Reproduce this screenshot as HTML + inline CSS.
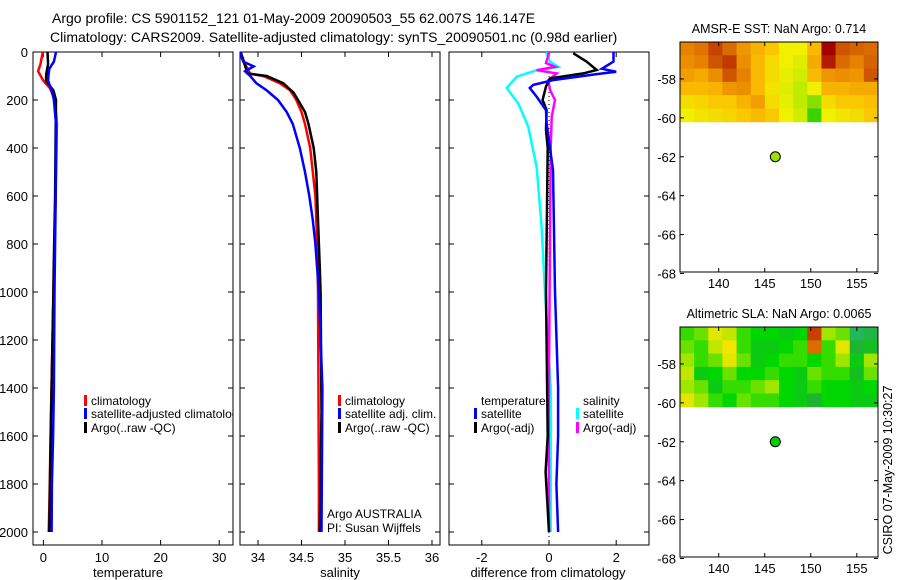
<!DOCTYPE html>
<html><head><meta charset="utf-8"><style>
body{margin:0;background:#fff}
svg{display:block;font-family:"Liberation Sans",sans-serif}
</style></head><body>
<svg id="s" width="900" height="580" xmlns="http://www.w3.org/2000/svg">
<defs>
<clipPath id="c1"><rect x="33" y="52" width="200" height="493"/></clipPath>
<clipPath id="c2"><rect x="240" y="52" width="200" height="493"/></clipPath>
<clipPath id="c3"><rect x="449" y="52" width="200" height="493"/></clipPath>
</defs>
<text x="52" y="23" font-size="14">Argo profile: CS 5901152_121 01-May-2009 20090503_55 62.007S 146.147E</text>
<text x="50" y="42" font-size="14">Climatology: CARS2009. Satellite-adjusted climatology: synTS_20090501.nc (0.98d earlier)</text>
<g id="g"></g>
</svg>
<script>
// ---- profile data ----
const tRedD=[0,50,80,120,150,200,300,600,1000,1500,1900,2000];
const tRedV=[-0.1,-0.5,-0.9,0,1.1,2.0,2.3,2.1,1.7,1.3,1.0,0.9];
const tBlkD=[0,50,90,120,160,200,300,600,900,1000,1400,1600,2000];
const tBlkV=[0.7,0.8,0.5,0.45,1.7,2.15,2.1,2.0,1.75,1.7,1.4,1.25,1.0];
const tBluD=[0,40,70,100,120,160,200,300,600,1000,1400,1600,1800,2000];
const tBluV=[2.15,1.8,1.0,0.85,0.8,1.4,1.8,2.15,2.1,1.9,1.8,1.65,1.45,1.4];
const sRedD=[0,50,90,100,130,160,200,250,300,400,500,600,800,1000,1800,2000];
const sRedV=[33.80,33.85,33.91,34.06,34.25,34.37,34.44,34.50,34.54,34.60,34.63,34.66,34.68,34.69,34.70,34.70];
const sBlkD=[0,90,100,130,170,200,250,300,400,500,700,900,1000,1500,2000];
const sBlkV=[33.80,33.88,34.10,34.29,34.41,34.46,34.54,34.58,34.64,34.67,34.69,34.71,34.72,34.73,34.71];
const sBluD=[0,40,60,80,100,130,160,200,250,300,400,500,600,700,800,1000,1400,2000];
const sBluV=[33.79,33.83,33.95,33.85,33.91,33.98,34.10,34.23,34.33,34.40,34.48,34.54,34.59,34.63,34.66,34.70,34.74,34.73];
const dBluD=[0,40,70,82,92,117,137,150,186,242,296,492,1000,1400,1600,1800,2000];
const dBluV=[1.92,1.92,1.57,2.0,1.42,0.12,-0.47,-0.57,-0.37,-0.09,-0.07,0.12,0.18,0.27,0.27,0.22,0.27];
const dBlkD=[5,40,75,89,110,144,200,242,325,400,1000,1600,1750,2000];
const dBlkV=[0.72,1.12,1.42,1.02,0.03,-0.09,-0.19,-0.07,-0.09,-0.04,-0.09,-0.04,-0.1,0];
const dCyaD=[0,40,62,76,103,150,215,311,478,728,1000,1400,2000];
const dCyaV=[-0.09,0.03,0.28,-0.37,-0.96,-1.26,-0.91,-0.62,-0.37,-0.22,-0.12,0.05,0.05];
const dMagD=[0,46,62,76,89,117,158,200,269,400,1500,2000];
const dMagV=[0.01,-0.09,0.18,-0.37,0.23,-0.02,0.03,0.18,0.08,0.05,-0.01,0];
const depthTicks=[0,200,400,600,800,1000,1200,1400,1600,1800,2000];
const tTicks=[0,10,20,30];
const sTicks=[34,34.5,35,35.5,36];
const sTickLabels=["34","34.5","35","35.5","36"];
const dTicks=[-2,0,2];
const latTicks=[-58,-60,-62,-64,-66,-68];
const lonTicks=[140,145,150,155];
// ---- map data (14 lon cols x 6 lat rows, top row first) ----
const sstGrid=[
[.75,.78,.88,.8,.7,.62,.55,.45,.45,.6,1.0,.85,.82,.8],
[.72,.75,.85,.9,.72,.6,.5,.45,.4,.65,.95,.8,.75,.82],
[.68,.65,.72,.85,.75,.6,.5,.42,.35,.6,.7,.72,.7,.85],
[.6,.6,.62,.7,.72,.6,.48,.4,.3,.45,.62,.62,.65,.65],
[.5,.52,.55,.55,.62,.68,.5,.42,.3,.22,.5,.55,.55,.58],
[.45,.48,.5,.52,.55,.6,.55,.45,.35,.1,.45,.48,.5,.55]];
const slaGrid=[
[.5,.55,.7,.65,.5,.45,.45,.4,.45,.95,.6,.55,.2,.25],
[.55,.5,.65,.72,.5,.4,.4,.45,.5,.9,.5,.7,.3,.35],
[.6,.5,.55,.7,.55,.4,.45,.5,.5,.45,.5,.6,.4,.6],
[.65,.4,.45,.55,.45,.45,.5,.45,.4,.55,.5,.5,.35,.55],
[.6,.55,.4,.5,.5,.55,.6,.45,.4,.5,.45,.45,.4,.45],
[.7,.6,.5,.45,.55,.5,.5,.45,.4,.3,.45,.45,.4,.4]];
const gridLon=[135.8,157.3], gridLat=[-56.1,-60.2];
const argoLon=146.15, argoLat=-62.0;

const NS="http://www.w3.org/2000/svg", G=document.getElementById('g');
function el(tag,attrs,parent,txt){const e=document.createElementNS(NS,tag);for(const k in attrs)e.setAttribute(k,attrs[k]);if(txt!==undefined)e.textContent=txt;(parent||G).appendChild(e);return e;}
const yD=d=>52+d*0.24;
const xT=v=>43.4+v*5.86, xS=v=>258+(v-34)*87, xDf=v=>549+v*33.6;
function line(D,V,fx,col,clip,name){
  const p=D.map((d,i)=>fx(V[i]).toFixed(1)+','+yD(d).toFixed(1)).join(' ');
  const e=el('polyline',{points:p,fill:'none',stroke:col,'stroke-width':2.5,'clip-path':'url(#'+clip+')'});
  
  
}
function panel(x0,name){
  const r=el('rect',{x:x0,y:52,width:200,height:493,fill:'none',stroke:'#000','stroke-width':1});
  
  
  depthTicks.forEach(d=>{el('line',{x1:x0,x2:x0+5,y1:yD(d),y2:yD(d),stroke:'#000'});el('line',{x1:x0+200,x2:x0+195,y1:yD(d),y2:yD(d),stroke:'#000'});});
}
panel(33,'temperature-panel');panel(240,'salinity-panel');panel(449,'difference-panel');
depthTicks.forEach(d=>{const t=el('text',{x:28,y:yD(d)+5,'font-size':13,'text-anchor':'end'},G,String(d));});
function xticks(vals,labels,fx,x0){vals.forEach((v,i)=>{const x=fx(v);el('line',{x1:x,x2:x,y1:545,y2:540,stroke:'#000'});el('line',{x1:x,x2:x,y1:52,y2:57,stroke:'#000'});const t=el('text',{x:x,y:562,'font-size':13,'text-anchor':'middle'},G,labels[i]);});}
xticks(tTicks,tTicks.map(String),xT);xticks(sTicks,sTickLabels,xS);xticks(dTicks,dTicks.map(String),xDf);
[['temperature',128],['salinity',340],['difference from climatology',548]].forEach(a=>{const t=el('text',{x:a[1],y:577,'font-size':13,'text-anchor':'middle'},G,a[0]);});
const z=el('line',{x1:xDf(0),x2:xDf(0),y1:52,y2:545,stroke:'#000','stroke-dasharray':'1,3'});


line(tRedD,tRedV,xT,'#f00','c1','temp-climatology-line');
line(tBlkD,tBlkV,xT,'#000','c1','temp-argo-line');
line(tBluD,tBluV,xT,'#00f','c1','temp-satellite-line');
line(sRedD,sRedV,xS,'#f00','c2','sal-climatology-line');
line(sBlkD,sBlkV,xS,'#000','c2','sal-argo-line');
line(sBluD,sBluV,xS,'#00f','c2','sal-satellite-line');
line(dCyaD,dCyaV,xDf,'#0ff','c3','diff-sal-satellite-line');
line(dMagD,dMagV,xDf,'#f0f','c3','diff-sal-argo-line');
line(dBlkD,dBlkV,xDf,'#000','c3','diff-temp-argo-line');
line(dBluD,dBluV,xDf,'#00f','c3','diff-temp-satellite-line');
function leg(x,y,col,txt,clip){const g=el('g',{'clip-path':clip?'url(#'+clip+')':''});if(col)el('rect',{x:x-7,y:y-10,width:3,height:11,fill:col},g);el('text',{x:x,y:y,'font-size':12},g,txt);}
leg(91,405,'#f00','climatology','c1');leg(91,418,'#00f','satellite-adjusted climatology','c1');leg(91,432,'#000','Argo(..raw -QC)','c1');
leg(345,405,'#f00','climatology');leg(345,418,'#00f','satellite adj. clim.');leg(345,432,'#000','Argo(..raw -QC)');
leg(481,405,null,'temperature');leg(481,418,'#00f','satellite');leg(481,432,'#000','Argo(-adj)');
leg(583,405,null,'salinity');leg(583,418,'#0ff','satellite');leg(583,432,'#f0f','Argo(-adj)');
const a1=el('text',{x:327,y:518,'font-size':12},G,'Argo AUSTRALIA');
const a2=el('text',{x:327,y:532,'font-size':12},G,'PI: Susan Wijffels');
function cmap(stops,v){for(let i=1;i<stops.length;i++){if(v<=stops[i][0]){const a=stops[i-1],b=stops[i],f=(v-a[0])/(b[0]-a[0]);return 'rgb('+[1,2,3].map(k=>Math.round(a[k]+(b[k]-a[k])*f)).join(',')+')';}}const l=stops[stops.length-1];return 'rgb('+l[1]+','+l[2]+','+l[3]+')';}
const sstStops=[[0,0,200,0],[0.2,120,220,0],[0.3,190,235,0],[0.45,240,240,0],[0.55,250,200,0],[0.65,245,170,0],[0.75,230,130,0],[0.85,205,85,0],[1,165,0,0]];
const slaStops=[[0,40,190,170],[0.3,30,180,50],[0.45,0,215,0],[0.6,160,230,0],[0.72,240,230,0],[0.85,240,150,0],[1,180,20,0]];
function map(top,title,grid,stops,name,dotCol){
  const L=680,R=878,B=top+230;
  const xl=v=>L+(v-135.8)*(R-L)/(157.3-135.8), yl=v=>top+(-56.1-v)*19.45;
  const g=el('g',{});
  const rows=grid.length, cols=grid[0].length;
  const x0=xl(gridLon[0]),x1=xl(gridLon[1]),y0=yl(gridLat[0]),y1=yl(gridLat[1]);
  const cw=(x1-x0)/cols, ch=(y1-y0)/rows;
  grid.forEach((row,r)=>row.forEach((v,c)=>{const e=el('rect',{x:(x0+c*cw).toFixed(2),y:(y0+r*ch).toFixed(2),width:(cw+0.5).toFixed(2),height:(ch+0.5).toFixed(2),fill:cmap(stops,v)},g);}));
  el('rect',{x:L,y:top,width:R-L,height:230,fill:'none',stroke:'#000'},g);
  latTicks.forEach(v=>{const y=yl(v);el('line',{x1:L,x2:L+4,y1:y,y2:y,stroke:'#000'},g);el('line',{x1:R,x2:R-4,y1:y,y2:y,stroke:'#000'},g);const t=el('text',{x:L-4,y:y+5,'font-size':13,'text-anchor':'end'},g,String(v));});
  lonTicks.forEach(v=>{const x=xl(v);el('line',{x1:x,x2:x,y1:top,y2:top+4,stroke:'#000'},g);el('line',{x1:x,x2:x,y1:B,y2:B-4,stroke:'#000'},g);const t=el('text',{x:x,y:B+16,'font-size':13,'text-anchor':'middle'},g,String(v));});
  const d=el('circle',{cx:xl(argoLon),cy:yl(argoLat),r:5,fill:dotCol,stroke:'#000'},g);
  const t=el('text',{x:779,y:top-9,'font-size':12.5,'text-anchor':'middle'},g,title);
}
map(42,'AMSR-E SST: NaN Argo: 0.714',sstGrid,sstStops,'sst-map','#9be000');
map(327,'Altimetric SLA: NaN Argo: 0.0065',slaGrid,slaStops,'sla-map','#00d000');
const cs=el('text',{x:0,y:0,'font-size':12.5,'text-anchor':'middle',transform:'translate(892,470) rotate(-90)'},G,'CSIRO 07-May-2009 10:30:27');


</script>
</body></html>
